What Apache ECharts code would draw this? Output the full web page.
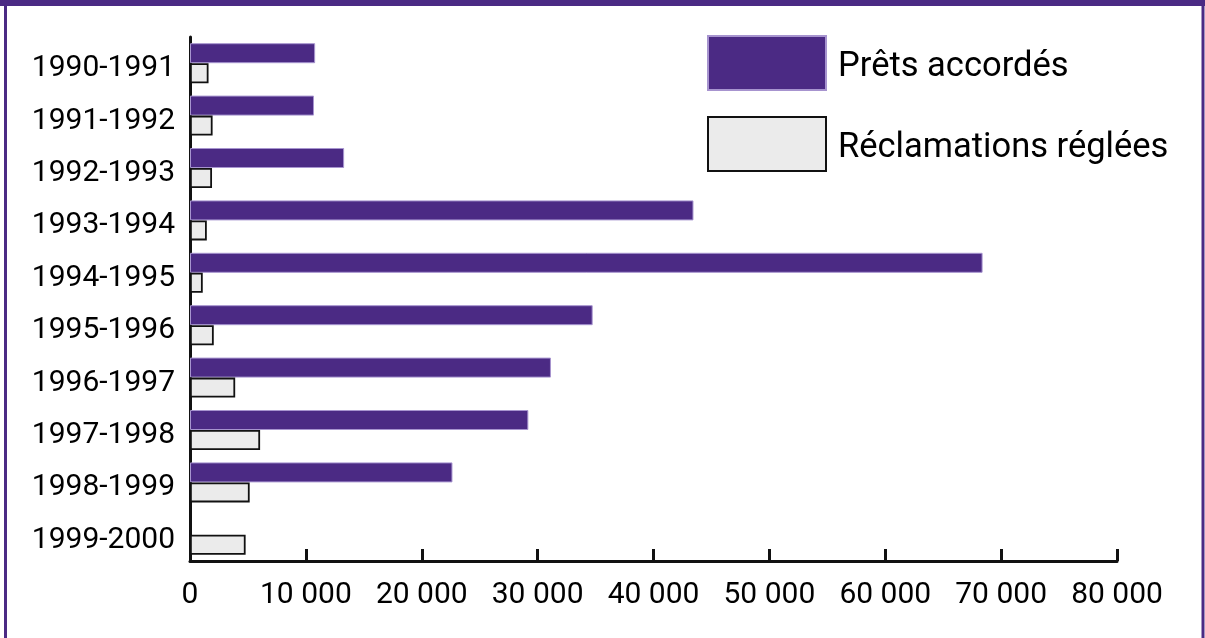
<!DOCTYPE html>
<html>
<head>
<meta charset="utf-8">
<script src="https://cdn.jsdelivr.net/npm/echarts@6/dist/echarts.min.js"></script>
<style>
html,body{margin:0;padding:0;background:#fff;}
#chart{width:1205px;height:638px;}
</style>
</head>
<body>
<div id="chart"></div>
<script>
const categories = ['1990-1991','1991-1992','1992-1993','1993-1994','1994-1995','1995-1996','1996-1997','1997-1998','1998-1999','1999-2000'];
const pretsAccordes = [10800, 10700, 13300, 43450, 68400, 34750, 31150, 29200, 22650, null];
const reclamationsReglees = [1600, 1950, 1900, 1450, 1100, 2050, 3900, 6050, 5150, 4800];
const seriesNames = ['Prêts accordés', 'Réclamations réglées'];
const xMax = 80000;
const xInterval = 10000;

const purple = '#4b2a84';
const chart = echarts.init(document.getElementById('chart'));
chart.setOption({
  animation: false,
  backgroundColor: '#fff',
  textStyle: { fontFamily: 'Roboto' },
  graphic: [
    { type: 'rect', shape: { x: 5.5, y: -20, width: 1197.5, height: 700 }, style: { fill: 'none', stroke: purple, lineWidth: 3 }, z: 100 },
    { type: 'rect', shape: { x: 0, y: 0, width: 1205, height: 6 }, style: { fill: purple }, z: 100 }
  ],
  grid: { left: 190, right: 88, top: 37, bottom: 77, containLabel: false },
  legend: {
    orient: 'vertical',
    left: 707,
    top: 35,
    padding: 0,
    itemWidth: 118,
    itemHeight: 54,
    itemGap: 25,
    icon: 'rect',
    selectedMode: false,
    formatter: name => '{t|' + name + '}',
    textStyle: {
      fontFamily: 'Roboto', fontSize: 34.5, color: '#000',
      rich: { t: { fontFamily: 'Roboto', fontSize: 34.5, color: '#000', padding: [8, 0, 0, 7] } }
    },
    data: seriesNames
  },
  xAxis: {
    type: 'value',
    min: 0,
    max: xMax,
    interval: xInterval,
    splitLine: { show: false },
    axisLine: { show: true, lineStyle: { color: '#111', width: 3 } },
    axisTick: { show: true, inside: true, length: 12, lineStyle: { color: '#111', width: 3 } },
    axisLabel: {
      fontFamily: 'Roboto', fontSize: 30, color: '#000', margin: 19,
      formatter: v => String(v).replace(/\B(?=(\d{3})+(?!\d))/g, ' ')
    }
  },
  yAxis: {
    type: 'category',
    data: categories,
    inverse: true,
    axisLine: { show: true, lineStyle: { color: '#111', width: 3 } },
    axisTick: { show: false },
    axisLabel: { fontFamily: 'Roboto', fontSize: 30, color: '#000', margin: 15, verticalAlign: 'top', lineHeight: 11 }
  },
  series: [
    {
      name: seriesNames[0], type: 'bar', data: pretsAccordes,
      barWidth: 20, barGap: '0%',
      itemStyle: { color: purple, borderColor: '#a794cf', borderWidth: 1 }
    },
    {
      name: seriesNames[1], type: 'bar', data: reclamationsReglees,
      barWidth: 20,
      itemStyle: { color: '#ebebeb', borderColor: '#111', borderWidth: 1.8 }
    }
  ]
});
</script>
</body>
</html>
